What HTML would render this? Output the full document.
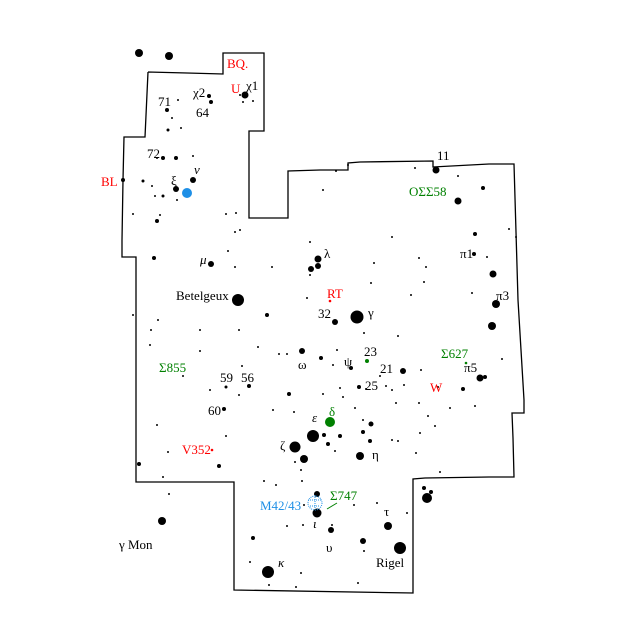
<!DOCTYPE html>
<html><head><meta charset="utf-8"><style>
html,body{margin:0;padding:0;background:#fff}
svg{display:block}
text{font-family:"Liberation Serif",serif;font-size:13px}
</style></head><body>
<svg width="640" height="640" viewBox="0 0 640 640" xmlns="http://www.w3.org/2000/svg">
<rect width="640" height="640" fill="#fff"/>
<polyline fill="none" stroke="#000" stroke-width="1.3" points="148,72 187,73 223,74 223,53 264,53 264,131 249,131 249,218 288,218 288,171 320,170 348,170 348,163 360,162 433,161 433,167 489,164 514,164 518,300 524,400 524,413 512,413 513,438 514,477 489,477 425,478 413,479 413,593 234,590 234,482 136,482 136,257 122,257 122,240 123,180 124,137 145,137 148,72"/>
<g fill="#000">
<circle cx="139" cy="53" r="4"/><circle cx="169" cy="56" r="4"/><circle cx="162" cy="521" r="4"/><circle cx="427" cy="498" r="5"/><circle cx="424" cy="488" r="2"/><circle cx="431" cy="492" r="2"/>
<circle cx="245" cy="95" r="3.5"/><circle cx="240" cy="95" r="1"/><circle cx="243" cy="102" r="1"/><circle cx="253" cy="101" r="1"/><circle cx="209" cy="96" r="2"/><circle cx="211" cy="102" r="2"/><circle cx="167" cy="110" r="2"/><circle cx="178" cy="100" r="1"/><circle cx="172" cy="118" r="1"/><circle cx="181" cy="128" r="1"/><circle cx="168" cy="130" r="1.5"/><circle cx="163" cy="158" r="2"/><circle cx="176" cy="158" r="2"/><circle cx="157" cy="158" r="1"/><circle cx="193" cy="156" r="1"/><circle cx="193" cy="180" r="3"/><circle cx="176" cy="189" r="3"/><circle cx="143" cy="181" r="1.5"/><circle cx="152" cy="186" r="1"/><circle cx="155" cy="196" r="1"/><circle cx="163" cy="196" r="1.5"/><circle cx="177" cy="200" r="1"/><circle cx="133" cy="214" r="1"/><circle cx="160" cy="215" r="1"/><circle cx="157" cy="221" r="2"/><circle cx="226" cy="214" r="1"/><circle cx="236" cy="213" r="1"/><circle cx="240" cy="230" r="1"/><circle cx="228" cy="251" r="1"/><circle cx="123" cy="180" r="2"/>
<circle cx="415" cy="168" r="1"/><circle cx="436" cy="170" r="3.5"/><circle cx="336" cy="171" r="1"/><circle cx="348" cy="165" r="1"/><circle cx="323" cy="190" r="1"/><circle cx="458" cy="176" r="1"/><circle cx="483" cy="188" r="2"/><circle cx="458" cy="201" r="3.5"/><circle cx="392" cy="237" r="1"/><circle cx="475" cy="234" r="2"/><circle cx="509" cy="229" r="1"/><circle cx="516" cy="237" r="1"/><circle cx="474" cy="254" r="2"/><circle cx="487" cy="257" r="1"/><circle cx="493" cy="274" r="3.5"/><circle cx="419" cy="258" r="1"/><circle cx="426" cy="267" r="1"/><circle cx="424" cy="282" r="1"/><circle cx="411" cy="295" r="1"/><circle cx="472" cy="293" r="1"/><circle cx="496" cy="304" r="4"/><circle cx="492" cy="326" r="4"/><circle cx="398" cy="336" r="1"/><circle cx="502" cy="359" r="1"/><circle cx="480" cy="378" r="3.5"/><circle cx="485" cy="377" r="2"/><circle cx="421" cy="370" r="1"/><circle cx="438" cy="387" r="1"/><circle cx="463" cy="389" r="2"/><circle cx="403" cy="371" r="3"/><circle cx="392" cy="390" r="1"/><circle cx="396" cy="403" r="1"/><circle cx="419" cy="403" r="1"/><circle cx="450" cy="408" r="1"/><circle cx="428" cy="416" r="1"/><circle cx="475" cy="406" r="1"/><circle cx="398" cy="441" r="1"/><circle cx="416" cy="453" r="1"/><circle cx="440" cy="472" r="1"/><circle cx="435" cy="426" r="1"/><circle cx="420" cy="433" r="1"/><circle cx="386" cy="386" r="1"/><circle cx="366" cy="389" r="1"/>
<circle cx="318" cy="259" r="3.5"/><circle cx="311" cy="269" r="3"/><circle cx="318" cy="266" r="3"/><circle cx="310" cy="275" r="1"/><circle cx="272" cy="267" r="1"/><circle cx="310" cy="242" r="1"/><circle cx="374" cy="263" r="1"/><circle cx="371" cy="283" r="1"/><circle cx="307" cy="298" r="1"/><circle cx="335" cy="322" r="3"/><circle cx="357" cy="317" r="6.5"/><circle cx="364" cy="333" r="1"/><circle cx="302" cy="351" r="3"/><circle cx="321" cy="358" r="2"/><circle cx="279" cy="354" r="1"/><circle cx="337" cy="350" r="1"/><circle cx="333" cy="365" r="1"/><circle cx="351" cy="368" r="2"/><circle cx="380" cy="376" r="1"/><circle cx="404" cy="385" r="1"/><circle cx="359" cy="387" r="2"/><circle cx="340" cy="388" r="1"/><circle cx="323" cy="394" r="1"/><circle cx="343" cy="397" r="1"/><circle cx="289" cy="394" r="2"/><circle cx="294" cy="412" r="1"/><circle cx="355" cy="408" r="1"/><circle cx="363" cy="420" r="1"/><circle cx="371" cy="424" r="2.5"/><circle cx="363" cy="432" r="2"/><circle cx="313" cy="436" r="6"/><circle cx="295" cy="447" r="5.5"/><circle cx="304" cy="459" r="4"/><circle cx="324" cy="435" r="2"/><circle cx="340" cy="436" r="2"/><circle cx="328" cy="444" r="2"/><circle cx="370" cy="441" r="2"/><circle cx="360" cy="456" r="4"/><circle cx="392" cy="440" r="1"/><circle cx="335" cy="451" r="1"/><circle cx="295" cy="462" r="1"/>
<circle cx="211" cy="264" r="3"/><circle cx="154" cy="258" r="2"/><circle cx="235" cy="267" r="1"/><circle cx="235" cy="232" r="1"/><circle cx="238" cy="300" r="6"/><circle cx="267" cy="315" r="2"/><circle cx="158" cy="320" r="1"/><circle cx="151" cy="330" r="1"/><circle cx="200" cy="330" r="1"/><circle cx="200" cy="351" r="1"/><circle cx="150" cy="345" r="1"/><circle cx="258" cy="347" r="1"/><circle cx="287" cy="354" r="1"/><circle cx="239" cy="330" r="1"/><circle cx="133" cy="315" r="1"/><circle cx="183" cy="376" r="1"/><circle cx="242" cy="366" r="1"/><circle cx="226" cy="387" r="1.5"/><circle cx="249" cy="386" r="2"/><circle cx="210" cy="390" r="1"/><circle cx="239" cy="395" r="1"/><circle cx="273" cy="410" r="1"/><circle cx="224" cy="409" r="2"/><circle cx="157" cy="425" r="1"/><circle cx="226" cy="436" r="1"/><circle cx="168" cy="452" r="1"/><circle cx="219" cy="466" r="2"/><circle cx="139" cy="464" r="2"/><circle cx="163" cy="477" r="1"/><circle cx="169" cy="494" r="1"/>
<circle cx="301" cy="470" r="1"/><circle cx="302" cy="481" r="1"/><circle cx="264" cy="481" r="1"/><circle cx="276" cy="485" r="1"/><circle cx="317" cy="494" r="3"/><circle cx="317" cy="513" r="4.5"/><circle cx="354" cy="505" r="1"/><circle cx="377" cy="503" r="1"/><circle cx="407" cy="513" r="1"/><circle cx="304" cy="505" r="1"/><circle cx="287" cy="526" r="1"/><circle cx="303" cy="525" r="1"/><circle cx="332" cy="525" r="1"/><circle cx="331" cy="530" r="3"/><circle cx="253" cy="538" r="2"/><circle cx="363" cy="541" r="3"/><circle cx="388" cy="526" r="4"/><circle cx="400" cy="548" r="6"/><circle cx="364" cy="551" r="1"/><circle cx="250" cy="562" r="1"/><circle cx="268" cy="572" r="6"/><circle cx="301" cy="573" r="1"/><circle cx="269" cy="585" r="1"/><circle cx="296" cy="587" r="1"/><circle cx="358" cy="583" r="1"/>
</g>
<circle cx="187" cy="193" r="5" fill="#1e8fe6"/>
<circle cx="330" cy="422" r="5" fill="#008000"/>
<circle cx="367" cy="361" r="2" fill="#008000"/><circle cx="466" cy="363" r="1.3" fill="#008000"/>
<circle cx="330" cy="301" r="1.3" fill="#f00"/><circle cx="212" cy="450" r="1.3" fill="#f00"/>
<g stroke="#1e8fe6" stroke-width="1" stroke-dasharray="1,1" fill="none"><circle cx="315" cy="503" r="7"/><path d="M308 500h14M310 506h10M315 495v14"/></g>
<line x1="327" y1="509" x2="337" y2="503" stroke="#008000"/>
<g fill="#f00"><text x="227" y="68">BQ.</text><text x="231" y="93">U</text><text x="101" y="186">BL</text><text x="327" y="298">RT</text><text x="430" y="392">W</text><text x="182" y="454" font-size="12">V352</text></g>
<g fill="#008000"><text x="409" y="196">ΟΣΣ58</text><text x="441" y="358">Σ627</text><text x="159" y="372">Σ855</text><text x="329" y="416">δ</text><text x="330" y="500">Σ747</text></g>
<text x="260" y="510" fill="#1e8fe6" font-size="12">M42/43</text>
<g fill="#000">
<text x="246" y="90">χ1</text><text x="193" y="97">χ2</text><text x="196" y="117">64</text><text x="158" y="106">71</text><text x="147" y="158">72</text><text x="194" y="174" font-style="italic" font-size="11">ν</text><text x="171" y="185" font-size="11">ξ</text>
<text x="437" y="160">11</text><text x="460" y="258">π1</text><text x="496" y="300">π3</text><text x="464" y="372">π5</text>
<text x="324" y="258">λ</text><text x="318" y="318">32</text><text x="368" y="317">γ</text><text x="344" y="366">ψ</text><text x="364" y="356">23</text><text x="380" y="373">21</text><text x="365" y="390">25</text>
<text x="312" y="422" font-style="italic">ε</text><text x="280" y="450">ζ</text><text x="372" y="459">η</text><text x="298" y="369">ω</text>
<text x="176" y="300" font-size="12">Betelgeux</text><text x="200" y="264" font-style="italic">μ</text><text x="220" y="382">59</text><text x="241" y="382">56</text><text x="208" y="415">60</text>
<text x="384" y="516">τ</text><text x="313" y="528" font-style="italic" font-size="11">ι</text><text x="326" y="552">υ</text><text x="278" y="567" font-style="italic" font-size="11">κ</text><text x="376" y="567">Rigel</text><text x="119" y="549">γ Mon</text>
</g>
</svg>
</body></html>
